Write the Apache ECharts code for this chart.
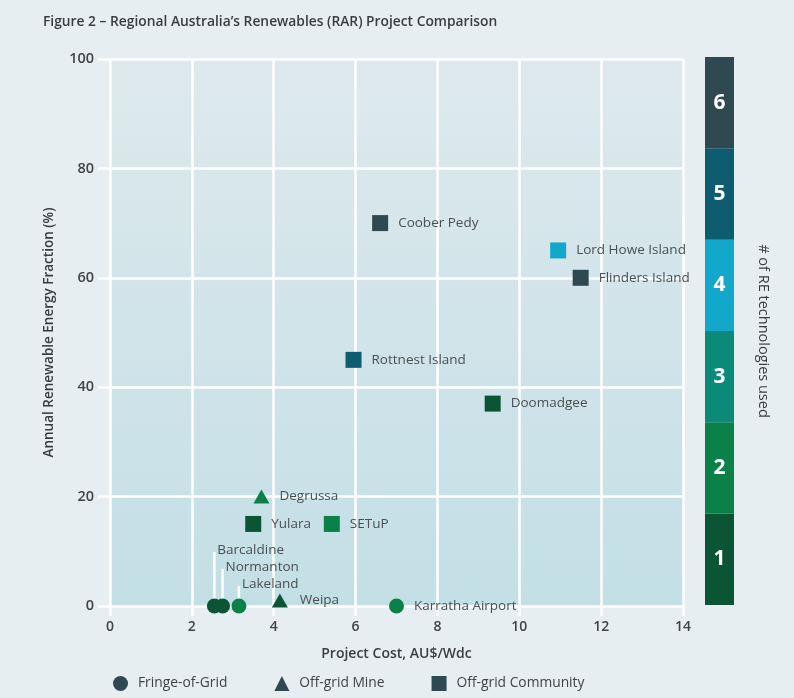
<!DOCTYPE html>
<html>
<head>
<meta charset="utf-8">
<script src="https://cdn.jsdelivr.net/npm/echarts@6/dist/echarts.min.js"></script>
<style>
html,body{margin:0;padding:0;background:#e7eef1;}
#chart{width:794px;height:698px;}
</style>
</head>
<body>
<div id="chart"></div>
<script>
// ---- data ----
var projectNames = ['Coober Pedy','Lord Howe Island','Flinders Island','Rottnest Island','Doomadgee','Degrussa','Yulara','SETuP','Barcaldine','Normanton','Lakeland','Weipa','Karratha Airport'];
var projectCost  = [6.6, 10.95, 11.5, 5.95, 9.35, 3.7, 3.5, 5.42, 2.55, 2.75, 3.15, 4.15, 7.0];
var reFraction   = [70, 65, 60, 45, 37, 20, 15, 15, 0, 0, 0, 1, 0];
var techCount    = [6, 4, 6, 5, 1, 2, 1, 2, 1, 1, 2, 1, 2];
var projectType  = ['Off-grid Community','Off-grid Community','Off-grid Community','Off-grid Community','Off-grid Community','Off-grid Mine','Off-grid Community','Off-grid Community','Fringe-of-Grid','Fringe-of-Grid','Fringe-of-Grid','Off-grid Mine','Fringe-of-Grid'];
var typeNames    = ['Fringe-of-Grid','Off-grid Mine','Off-grid Community'];
var typeSymbols  = ['circle','triangle','rect'];
var techLevels   = ['1','2','3','4','5','6'];
var techColors   = ['#0b5535','#0a8148','#0b8a7a','#13a7cb','#0d5c6f','#2f4953'];
var leaderNames  = ['Barcaldine','Normanton','Lakeland'];
var leaderRise   = {'Barcaldine':50,'Normanton':33,'Lakeland':16};

var FONT = 'Open Sans';
var LBL = 13.5;
var chart = echarts.init(document.getElementById('chart'), null, {renderer:'canvas'});

function labelFor(name){
  if (leaderNames.indexOf(name) >= 0) {
    var rise = leaderRise[name];
    return {show:true, position:'top', distance: rise - 9, align:'left', offset:[3,0],
      formatter:name, color:'#4a4f52', fontSize:LBL, fontFamily:FONT};
  }
  if (name === 'Weipa') {
    return {show:true, position:'right', distance:12, offset:[0,0], color:'#4a4f52', fontSize:LBL, fontFamily:FONT, formatter:name};
  }
  return {show:true, position:'right', distance:10, color:'#4a4f52', fontSize:LBL, fontFamily:FONT, formatter:name};
}

var scatterSeries = typeNames.map(function(t, ti){
  var data = [];
  for (var i = 0; i < projectNames.length; i++) {
    if (projectType[i] !== t) continue;
    data.push({
      name: projectNames[i],
      value: [projectCost[i], reFraction[i]],
      itemStyle: {color: techColors[techCount[i]-1]},
      label: labelFor(projectNames[i])
    });
  }
  return {
    name: t, type:'scatter', xAxisIndex:0, yAxisIndex:0,
    symbol: typeSymbols[ti],
    symbolSize: ti === 2 ? 16 : (ti === 1 ? [16,14] : 15),
    itemStyle: {color:'#2f4953', opacity:1},
    emphasis:{disabled:true},
    z: 5,
    data: data
  };
});

// leader lines (vertical, white) from marker up to label
var leaderData = [];
for (var i = 0; i < projectNames.length; i++) {
  if (leaderNames.indexOf(projectNames[i]) >= 0) leaderData.push([projectCost[i], reFraction[i], leaderRise[projectNames[i]]]);
}
var leaderSeries = {
  type:'custom', xAxisIndex:0, yAxisIndex:0, z:3, silent:true,
  renderItem: function(params, api){
    var p = api.coord([api.value(0), api.value(1)]);
    var rise = api.value(2);
    return {type:'line', shape:{x1:p[0], y1:p[1]-2, x2:p[0], y2:p[1]-rise-4},
      style:{stroke:'#ffffff', lineWidth:2.5}};
  },
  data: leaderData
};

var colorBar = {
  type:'bar', xAxisIndex:1, yAxisIndex:1, barWidth:'100%', silent:true,
  data: techLevels.map(function(l, i){ return {value:1, itemStyle:{color:techColors[i]}}; }),
  label:{show:true, position:'inside', formatter:function(p){return p.name;},
    color:'#ffffff', fontSize:21, fontWeight:'bold', fontFamily:FONT}
};

var option = {
  backgroundColor:'#e7eef1',
  animation:false,
  textStyle:{fontFamily:FONT},
  title:{text:'Figure 2 – Regional Australia’s Renewables (RAR) Project Comparison',
    left:38, top:10, textStyle:{fontSize:13.8, fontWeight:600, color:'#3a3d40', fontFamily:FONT}},
  legend:{
    data: typeNames, left:108, top:671, itemWidth:15, itemHeight:15, itemGap:47,
    textStyle:{fontSize:13.8, color:'#3f4447', fontFamily:FONT, padding:[0,0,0,5]},
    itemStyle:{color:'#2f4953'}
  },
  grid:[
    {left:110, right:111, top:59, bottom:92, show:true, borderWidth:0,
      backgroundColor:{type:'linear', x:0, y:0, x2:0, y2:1,
        colorStops:[{offset:0,color:'#dee9ed'},{offset:1,color:'#c3dfe6'}]}},
    {left:705, width:29, top:57, bottom:93}
  ],
  xAxis:[
    {type:'value', min:0, max:14, interval:2, gridIndex:0,
      name:'Project Cost, AU$/Wdc', nameLocation:'middle', nameGap:41,
      nameTextStyle:{fontSize:14, fontWeight:600, color:'#3a3d40', fontFamily:FONT},
      axisLine:{show:false},
      axisTick:{show:true, length:10, lineStyle:{color:'#ffffff', width:2.5}},
      axisLabel:{fontSize:14, fontWeight:600, color:'#3f4447', margin:14, fontFamily:FONT},
      splitLine:{show:true, lineStyle:{color:'#ffffff', width:2.5}}},
    {type:'value', min:0, max:1, gridIndex:1, show:false}
  ],
  yAxis:[
    {type:'value', min:0, max:100, interval:20, gridIndex:0,
      name:'Annual Renewable Energy Fraction (%)', nameLocation:'middle', nameGap:54, nameRotate:90,
      nameTextStyle:{fontSize:13.5, fontWeight:600, color:'#3a3d40', fontFamily:FONT},
      axisLine:{show:false},
      axisTick:{show:true, length:12, lineStyle:{color:'#ffffff', width:2.5}},
      axisLabel:{fontSize:14.5, fontWeight:600, color:'#3f4447', margin:16, fontFamily:FONT},
      splitLine:{show:true, lineStyle:{color:'#ffffff', width:2.5}}},
    {type:'category', data:techLevels, gridIndex:1, position:'right',
      name:'# of RE technologies used', nameLocation:'middle', nameRotate:-90, nameGap:22,
      nameTextStyle:{fontSize:14.5, fontWeight:500, color:'#3a3d40', fontFamily:FONT},
      axisLine:{show:false}, axisTick:{show:false}, axisLabel:{show:false}}
  ],
  series: scatterSeries.concat([leaderSeries, colorBar])
};
chart.setOption(option);
</script>
</body>
</html>
